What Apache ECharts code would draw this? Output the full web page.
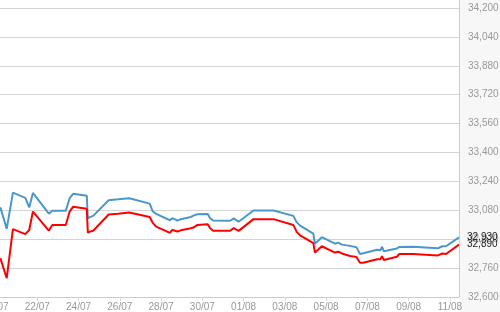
<!DOCTYPE html>
<html>
<head>
<meta charset="utf-8">
<script src="https://cdn.jsdelivr.net/npm/echarts@6/dist/echarts.min.js"></script>
<style>
html,body{margin:0;padding:0;background:#fff;}
#c{width:500px;height:312px;}
</style>
</head>
<body>
<div id="c"></div>
<script>
// Days since 20/07 00:00
var dayOffsets = [0.21,0.52,0.82,1.42,1.61,1.79,2.56,2.73,3.38,3.57,3.74,4.40,4.45,4.55,4.63,4.71,5.46,5.92,6.46,7.45,7.59,7.76,8.43,8.54,8.68,8.79,8.96,9.44,9.60,9.76,10.26,10.38,10.52,11.35,11.52,11.76,12.48,13.45,14.41,14.58,14.74,15.38,15.46,15.55,15.79,16.43,16.59,16.76,17.16,17.47,17.64,17.80,18.47,18.63,18.71,18.80,19.43,19.55,20.21,21.42,21.64,21.81,22.44];
var blueValues = [33097,32977,33178,33149,33096,33176,33061,33077,33077,33147,33171,33160,33036,33042,33036,33049,33136,33141,33147,33117,33075,33060,33025,33036,33030,33023,33031,33043,33052,33058,33060,33036,33023,33022,33035,33017,33079,33079,33049,33013,32995,32951,32895,32899,32931,32895,32901,32890,32883,32876,32838,32842,32862,32859,32878,32853,32869,32877,32878,32870,32881,32881,32930];
var redValues = [32815,32704,32976,32948,32971,33073,32967,32999,32999,33073,33100,33088,32956,32962,32956,32967,33057,33061,33068,33043,33012,32990,32955,32971,32967,32963,32969,32981,32986,32999,33003,32981,32967,32967,32981,32966,33031,33031,32999,32959,32941,32898,32846,32838,32881,32846,32851,32841,32827,32822,32789,32790,32809,32809,32826,32805,32823,32838,32838,32830,32841,32838,32890];
var xTickDays = [0,2,4,6,8,10,12,14,16,18,20,22];
var xTickLabels = ['20/07','22/07','24/07','26/07','28/07','30/07','01/08','03/08','05/08','07/08','09/08','11/08'];
var yBase = 32600, yTop = 34200, yStep = 160;

function fmt(n){
  n = Math.round(n);
  return String(n).replace(/\B(?=(\d{3})+(?!\d))/g, ',');
}
function pairs(vals){
  return dayOffsets.map(function(d,i){ return [d, vals[i]-yBase]; });
}

var chart = echarts.init(document.getElementById('c'), null, {renderer:'canvas'});
var font = 'Liberation Sans, Arial, sans-serif';
chart.setOption({
  animation:false,
  backgroundColor:'#ffffff',
  graphic:[
    {type:'rect', z:-10, shape:{x:459,y:0,width:41,height:312}, style:{fill:'#f7f7f7'}, silent:true},
    {type:'line', z:100, shape:{x1:459.5,y1:0,x2:459.5,y2:297}, style:{stroke:'#cccccc', lineWidth:1}, silent:true}
  ],
  grid:{left:-4, right:41, top:8, bottom:15, containLabel:false, outerBoundsMode:'none'},
  xAxis:{
    type:'value', min:0, max:22.44,
    axisLine:{show:true, lineStyle:{color:'#cccccc', width:1}},
    axisTick:{show:true, length:4, lineStyle:{color:'#d8d8d8'}, customValues:xTickDays},
    splitLine:{show:false},
    axisLabel:{
      customValues:xTickDays, hideOverlap:false,
      color:'#999999', fontSize:10, fontFamily:font, margin:5,
      formatter:function(v){ var i = xTickDays.indexOf(Math.round(v)); return i>=0 ? xTickLabels[i] : ''; }
    }
  },
  yAxis:{
    type:'value', position:'right', min:0, max:yTop-yBase, interval:yStep,
    axisLine:{show:false},
    axisTick:{show:false},
    splitLine:{show:true, lineStyle:{color:'#d4d4d4', width:1}},
    axisLabel:{
      color:'#999999', fontSize:10, fontFamily:font, margin:9,
      formatter:function(v){ return fmt(v + yBase); }
    }
  },
  series:[
    {
      type:'line', data:pairs(blueValues), showSymbol:false, symbol:'none',
      lineStyle:{color:'#4a98cb', width:2}, z:3,
      endLabel:{show:true, distance:8, color:'#222222', fontSize:10, fontFamily:font,
        formatter:function(p){ return fmt(p.value[1]+yBase); }}
    },
    {
      type:'line', data:pairs(redValues), showSymbol:false, symbol:'none',
      lineStyle:{color:'#ff0000', width:2}, z:4,
      endLabel:{show:true, distance:8, color:'#222222', fontSize:10, fontFamily:font,
        formatter:function(p){ return fmt(p.value[1]+yBase); }}
    }
  ]
});
</script>
</body>
</html>
